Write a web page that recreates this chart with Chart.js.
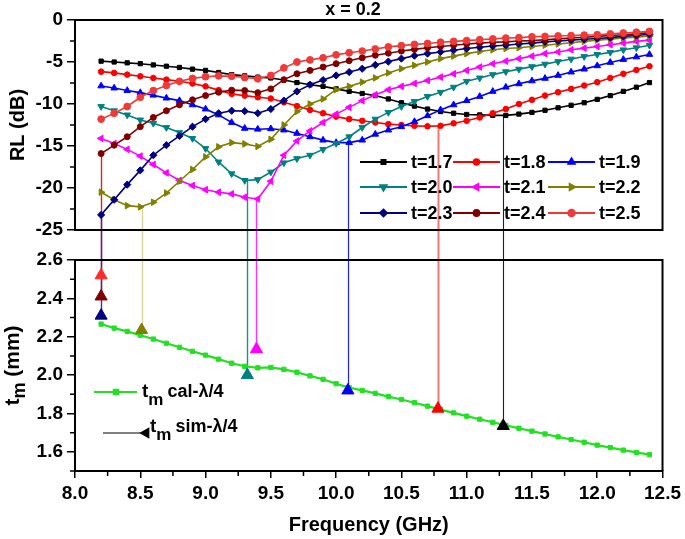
<!DOCTYPE html>
<html><head><meta charset="utf-8">
<script src="https://cdn.jsdelivr.net/npm/chart.js@4.4.0/dist/chart.umd.min.js"></script>
<style>html,body{margin:0;padding:0;background:#fff;}</style>
</head><body>
<canvas id="c" width="685" height="539"></canvas>
<script>
// ---------- data ----------
const freq = [8.2,8.3,8.4,8.5,8.6,8.7,8.8,8.9,9.0,9.1,9.2,9.3,9.4,9.5,9.6,9.7,9.8,9.9,10.0,10.1,10.2,10.3,10.4,10.5,10.6,10.7,10.8,10.9,11.0,11.1,11.2,11.3,11.4,11.5,11.6,11.7,11.8,11.9,12.0,12.1,12.2,12.3,12.4];
const rl17 = [-4.9,-5.0,-5.1,-5.2,-5.35,-5.5,-5.65,-5.85,-6.0, -6.25,-6.5,-6.65,-6.8,-6.9,-7.15,-7.45,-7.7,-7.9,-8.2, -8.5,-8.75,-9.0,-9.4,-9.85,-10.25,-10.6,-10.9,-11.1,-11.25, -11.3,-11.35,-11.35,-11.2,-11.0,-10.75,-10.45,-10.15,-9.85,-9.45, -9.0,-8.5,-8.0,-7.45];
const rl18 = [-6.15,-6.3,-6.5,-6.7,-6.9,-7.1,-7.3,-7.55,-7.9, -8.35,-8.8,-9.0,-9.2,-9.35,-9.8,-10.25,-10.7,-11.1,-11.5, -11.8,-12.0,-12.2,-12.4,-12.5,-12.6,-12.65,-12.6,-12.3,-12.0, -11.6,-11.1,-10.6,-10.0,-9.5,-9.0,-8.6,-8.2,-7.8,-7.4, -6.9,-6.4,-5.95,-5.5];
const rl19 = [-7.85,-8.1,-8.4,-8.65,-8.95,-9.3,-9.6,-10.1,-10.6, -11.3,-12.2,-12.9,-13.0,-12.95,-13.1,-13.5,-13.9,-14.3,-14.6, -14.6,-14.3,-13.6,-13.1,-12.7,-12.1,-11.4,-10.7,-10.1,-9.6, -9.1,-8.5,-8.0,-7.6,-7.25,-6.95,-6.6,-6.2,-5.85,-5.45, -5.05,-4.7,-4.4,-4.1];
const rl20 = [-10.3,-10.8,-11.3,-11.9,-12.3,-12.8,-13.4,-14.1,-15.3, -16.9,-18.3,-19.1,-19.0,-18.1,-17.0,-16.5,-16.1,-15.4,-14.7, -13.9,-12.8,-11.8,-11.0,-10.3,-9.7,-9.1,-8.6,-8.0,-7.3, -6.9,-6.5,-6.15,-5.85,-5.55,-5.25,-4.95,-4.65,-4.35,-4.1, -3.85,-3.55,-3.3,-3.0];
const rl21 = [-14.1,-14.7,-15.4,-16.2,-17.2,-18.2,-19.1,-19.7,-20.2, -20.5,-20.7,-21.1,-21.3,-19.2,-16.1,-14.4,-13.2,-12.2,-11.2, -10.4,-9.6,-8.9,-8.3,-7.9,-7.55,-7.2,-6.8,-6.4,-6.0, -5.6,-5.2,-4.9,-4.6,-4.3,-4.0,-3.8,-3.55,-3.35,-3.15, -2.95,-2.75,-2.55,-2.4];
const rl22 = [-20.5,-21.4,-22.1,-22.25,-21.7,-20.6,-19.2,-17.8,-16.3, -15.1,-14.6,-14.75,-15.05,-14.2,-12.5,-10.9,-10.0,-9.4,-8.3, -7.9,-7.4,-6.9,-6.3,-5.8,-5.4,-5.0,-4.6,-4.3,-4.0, -3.75,-3.55,-3.4,-3.3,-3.15,-3.0,-2.85,-2.7,-2.55,-2.4, -2.3,-2.15,-2.05,-1.9];
const rl23 = [-23.2,-21.4,-19.6,-17.9,-16.1,-14.9,-13.8,-12.7,-11.8, -11.1,-10.8,-10.85,-11.1,-10.6,-9.6,-8.5,-7.7,-7.15,-6.6, -6.2,-5.8,-5.35,-4.95,-4.6,-4.25,-4.0,-3.8,-3.6,-3.4, -3.25,-3.1,-3.0,-2.85,-2.75,-2.6,-2.5,-2.4,-2.3,-2.2, -2.1,-1.95,-1.85,-1.7];
const rl24 = [-15.9,-14.9,-13.9,-12.7,-11.6,-10.8,-10.1,-9.5,-9.0, -8.6,-8.35,-8.4,-8.65,-8.2,-7.1,-6.4,-6.0,-5.6,-5.2, -4.85,-4.5,-4.2,-3.95,-3.7,-3.5,-3.3,-3.15,-3.0,-2.85, -2.75,-2.65,-2.6,-2.5,-2.45,-2.35,-2.25,-2.15,-2.05,-1.95, -1.85,-1.75,-1.65,-1.5];
const rl25 = [-11.8,-11.1,-10.3,-9.2,-8.4,-7.8,-7.3,-6.95,-6.75, -6.65,-6.7,-6.85,-7.0,-6.6,-5.7,-5.0,-4.75,-4.5,-4.15, -3.9,-3.7,-3.45,-3.2,-3.05,-2.9,-2.8,-2.65,-2.55,-2.45, -2.35,-2.25,-2.15,-2.1,-2.0,-1.95,-1.9,-1.85,-1.8,-1.75, -1.65,-1.55,-1.45,-1.35];
const seriesLabels = ['t=1.7','t=1.8','t=1.9','t=2.0','t=2.1','t=2.2','t=2.3','t=2.4','t=2.5'];
const calTm = [2.266,2.245,2.228,2.208,2.188,2.166,2.145,2.124,2.104, 2.083,2.062,2.046,2.038,2.040,2.030,2.015,1.996,1.978,1.955, 1.935,1.920,1.905,1.888,1.873,1.856,1.838,1.820,1.803,1.786, 1.770,1.754,1.738,1.723,1.708,1.693,1.678,1.664,1.650,1.635, 1.622,1.609,1.597,1.585];
// simulated quarter-wave thickness (triangles) and RL minima they drop from
const simLabels = ['t=2.5','t=2.4','t=2.3','t=2.2','t=2.1','t=2.0','t=1.9','t=1.8','t=1.7'];
const simFreq = [8.2, 8.2, 8.2, 8.51, 9.39, 9.32, 10.09, 10.78, 11.28];
const simTm   = [2.52, 2.41, 2.31, 2.235, 2.135, 2.00, 1.92, 1.825, 1.735];
const dropRL  = [null, -15.9, -23.2, -22.25, -21.3, -19.1, -14.6, -12.6, -11.35];
const rlTicks = [0,-5,-10,-15,-20,-25];
const tmTicks = [1.6,1.8,2.0,2.2,2.4,2.6];
const freqTicks = [8.0,8.5,9.0,9.5,10.0,10.5,11.0,11.5,12.0,12.5];

// ---------- styles ----------
const FONT = '"Liberation Sans", Arial, sans-serif';
const seriesStyle = [
  {c:'#000000', ps:'rect', r:3, rot:0},
  {c:'#ff0000', ps:'circle', r:2.8, rot:0},
  {c:'#0000ff', ps:'triangle', r:3.8, rot:0},
  {c:'#008080', ps:'triangle', r:3.8, rot:180},
  {c:'#ff00ff', ps:'triangle', r:3.8, rot:270},
  {c:'#808000', ps:'triangle', r:3.8, rot:90},
  {c:'#000080', ps:'rectRot', r:3.6, rot:0},
  {c:'#800000', ps:'circle', r:3, rot:0},
  {c:'#f03a3a', ps:'circle', r:3.4, rot:0}
];
const simColors = ['#ff2a2a','#800000','#000080','#808000','#ff00ff','#008080','#0000ff','#ff0000','#000000'];
const dropColors = ['#ff2a2a','#d02828','#3030b0','#d4d49a','#ff30ff','#1a9090','#2020ff','#f07878','#202020'];
const dropWidths = [1.2,1.4,1.4,1.4,1.4,1.4,1.2,2.0,1.1];

const rlSeries = [rl17, rl18, rl19, rl20, rl21, rl22, rl23, rl24, rl25];
const datasets = rlSeries.map((vals, i) => {
  const s = seriesStyle[i];
  return {
    label: seriesLabels[i],
    data: freq.map((f, j) => ({x: f, y: vals[j]})),
    yAxisID: 'y', order: 30 - i,
    borderColor: s.c, backgroundColor: s.c,
    pointBackgroundColor: s.c, pointBorderColor: s.c,
    pointStyle: s.ps, pointRadius: s.r, pointRotation: s.rot, pointBorderWidth: 1,
    borderWidth: 1.6, tension: 0
  };
});
datasets.push({
  label: 'tm cal-λ/4',
  data: freq.map((f, j) => ({x: f, y: calTm[j]})),
  yAxisID: 'yTm', order: 5,
  borderColor: '#22e022', backgroundColor: '#22e022',
  pointBackgroundColor: '#22e022', pointBorderColor: '#22e022',
  pointStyle: 'rect', pointRadius: 3, pointBorderWidth: 1, borderWidth: 2.2
});
datasets.push({
  label: 'tm sim-λ/4',
  data: simFreq.map((f, j) => ({x: f, y: simTm[j]})),
  yAxisID: 'yTm', order: 1, showLine: false,
  borderColor: '#000', backgroundColor: '#000',
  pointBackgroundColor: simColors, pointBorderColor: simColors,
  pointStyle: 'triangle', pointRadius: 7, pointBorderWidth: 1
});

function fixTicks(arr) { return s => { s.ticks = arr.map(v => ({value: v})); }; }
const axisGrid = {display: true, drawOnChartArea: false, drawTicks: true, tickLength: 8, color: '#000', lineWidth: 1.5};
const axisBorder = {display: true, color: '#000', width: 2};
const tickFont = {family: FONT, size: 19, weight: 'bold'};

function minorTicks(ctx, scale, len, vertical) {
  const vals = scale.ticks.map(t => t.value).sort((a, b) => a - b);
  const mids = [];
  for (let i = 0; i < vals.length - 1; i++) mids.push((vals[i] + vals[i + 1]) / 2);
  const step = vals[1] - vals[0];
  if (vals[0] - step / 2 >= scale.min - 1e-9) mids.push(vals[0] - step / 2);
  if (vals[vals.length - 1] + step / 2 <= scale.max + 1e-9) mids.push(vals[vals.length - 1] + step / 2);
  ctx.beginPath();
  mids.forEach(v => {
    const p = scale.getPixelForValue(v);
    if (vertical) { ctx.moveTo(scale.right, p); ctx.lineTo(scale.right - len, p); }
    else { ctx.moveTo(p, scale.top); ctx.lineTo(p, scale.top + len); }
  });
  ctx.stroke();
}

function drawMarker(ctx, ds, idx, x, y) {
  const bg = Array.isArray(ds.pointBackgroundColor) ? ds.pointBackgroundColor[idx] : ds.pointBackgroundColor;
  ctx.fillStyle = bg; ctx.strokeStyle = bg;
  Chart.helpers.drawPoint(ctx, {pointStyle: ds.pointStyle, radius: ds.pointRadius, rotation: ds.pointRotation || 0, borderWidth: 1}, x, y);
}

const decor = {
  id: 'decor',
  beforeDatasetsDraw(chart) {
    const {ctx} = chart; const {x, y, yTm} = chart.scales;
    ctx.save();
    dropRL.forEach((rv, i) => {
      if (rv === null) return;
      const px = Math.round(x.getPixelForValue(simFreq[i])) + 0.5;
      ctx.strokeStyle = dropColors[i]; ctx.lineWidth = dropWidths[i];
      ctx.beginPath();
      ctx.moveTo(px, y.getPixelForValue(rv));
      ctx.lineTo(px, yTm.getPixelForValue(simTm[i]));
      ctx.stroke();
    });
    ctx.restore();
  },
  afterDraw(chart) {
    const {ctx} = chart; const {x, y, yTm} = chart.scales;
    ctx.save();
    // frames
    ctx.strokeStyle = '#000'; ctx.lineWidth = 2;
    ctx.strokeRect(x.left, y.top, x.right - x.left, y.bottom - y.top);
    ctx.beginPath();
    ctx.moveTo(x.left, yTm.top); ctx.lineTo(x.right, yTm.top); ctx.lineTo(x.right, yTm.bottom);
    ctx.stroke();
    // minor ticks
    ctx.lineWidth = 1.5;
    minorTicks(ctx, y, 5, true);
    minorTicks(ctx, yTm, 5, true);
    minorTicks(ctx, x, 5, false);

    // title
    ctx.fillStyle = '#000';
    ctx.font = 'bold 18px ' + FONT;
    ctx.textAlign = 'center'; ctx.textBaseline = 'alphabetic';
    ctx.fillText('x = 0.2', x.left + 278, 15);

    // axis titles
    ctx.font = 'bold 20px ' + FONT;
    ctx.fillText('Frequency (GHz)', (x.left + x.right) / 2, 531);
    ctx.save();
    ctx.translate(24, (y.top + y.bottom) / 2);
    ctx.rotate(-Math.PI / 2);
    ctx.fillText('RL (dB)', 0, 0);
    ctx.restore();
    ctx.save();
    ctx.translate(19, (yTm.top + yTm.bottom) / 2);
    ctx.rotate(-Math.PI / 2);
    ctx.textAlign = 'left';
    ctx.font = 'bold 21px ' + FONT;
    const wT = ctx.measureText('t').width;
    ctx.font = 'bold 18px ' + FONT;
    const wM = ctx.measureText('m').width;
    ctx.font = 'bold 21px ' + FONT;
    const wR = ctx.measureText(' (mm)').width;
    let sx = -(wT + wM + wR) / 2;
    ctx.fillText('t', sx, 0);
    ctx.font = 'bold 18px ' + FONT;
    ctx.fillText('m', sx + wT, 6);
    ctx.font = 'bold 21px ' + FONT;
    ctx.fillText(' (mm)', sx + wT + wM, 0);
    ctx.restore();

    // top legend (3 x 3)
    ctx.font = 'bold 18px ' + FONT;
    ctx.textAlign = 'left'; ctx.textBaseline = 'middle';
    const colX = [360, 453, 548];
    const rowY = [y.bottom - 68, y.bottom - 43, y.bottom - 17];
    for (let i = 0; i < 9; i++) {
      const ds = chart.data.datasets[i];
      const x0 = colX[i % 3], yc = rowY[Math.floor(i / 3)];
      ctx.strokeStyle = ds.borderColor; ctx.lineWidth = 1.8;
      ctx.beginPath(); ctx.moveTo(x0, yc); ctx.lineTo(x0 + 47, yc); ctx.stroke();
      drawMarker(ctx, ds, 0, x0 + 23.5, yc);
      ctx.fillStyle = '#000';
      ctx.fillText(ds.label, x0 + 51, yc + 1);
    }

    // bottom legend
    const dsCal = chart.data.datasets[9];
    ctx.strokeStyle = dsCal.borderColor; ctx.lineWidth = 2.2;
    ctx.beginPath(); ctx.moveTo(94, 392); ctx.lineTo(137, 392); ctx.stroke();
    drawMarker(ctx, dsCal, 0, 116, 392);
    ctx.textBaseline = 'alphabetic'; ctx.fillStyle = '#000';
    function tmText(x0, base, rest) {
      ctx.font = 'bold 19px ' + FONT;
      ctx.fillText('t', x0, base);
      const wt = ctx.measureText('t').width;
      ctx.font = 'bold 17px ' + FONT;
      ctx.fillText('m', x0 + wt, base + 8);
      const wm = ctx.measureText('m').width;
      ctx.font = 'bold 18px ' + FONT;
      ctx.fillText(rest, x0 + wt + wm + 4, base);
    }
    tmText(142, 397, 'cal-λ/4');
    ctx.strokeStyle = '#000'; ctx.lineWidth = 1.2;
    ctx.beginPath(); ctx.moveTo(103, 433); ctx.lineTo(145, 433); ctx.stroke();
    ctx.fillStyle = '#000';
    Chart.helpers.drawPoint(ctx, {pointStyle: 'triangle', radius: 5.5, rotation: 270, borderWidth: 1}, 146, 433);
    tmText(150, 432, 'sim-λ/4');
    ctx.restore();
  }
};

new Chart(document.getElementById('c'), {
  type: 'line',
  data: {datasets},
  options: {
    responsive: false, animation: false, devicePixelRatio: 1,
    layout: {padding: {top: 20, right: 20, left: 0, bottom: 0}},
    plugins: {legend: {display: false}, tooltip: {enabled: false}, title: {display: false}},
    scales: {
      x: {
        type: 'linear', position: 'bottom', min: 8, max: 12.5,
        afterBuildTicks: fixTicks(freqTicks),
        afterFit: s => { s.height = 68; },
        ticks: {font: tickFont, color: '#000', padding: 4, maxRotation: 0, autoSkip: false, callback: v => Number(v).toFixed(1)},
        grid: Object.assign({}, axisGrid, {tickLength: 7}), border: axisBorder
      },
      y: {
        type: 'linear', position: 'left', stack: 'v', stackWeight: 210, weight: 3,
        min: -25, max: 0,
        afterBuildTicks: fixTicks(rlTicks),
        afterFit: s => { s.width = 75; },
        ticks: {font: tickFont, color: '#000', padding: 4, autoSkip: false, callback: v => String(v)},
        grid: axisGrid, border: axisBorder
      },
      yGap: {
        type: 'linear', position: 'left', stack: 'v', stackWeight: 30, weight: 2,
        min: 0, max: 1,
        afterFit: s => { s.width = 75; },
        ticks: {display: false}, grid: {display: false}, border: {display: false}
      },
      yTm: {
        type: 'linear', position: 'left', stack: 'v', stackWeight: 211, weight: 1,
        min: 1.5, max: 2.6,
        afterBuildTicks: fixTicks(tmTicks),
        afterFit: s => { s.width = 75; },
        ticks: {font: tickFont, color: '#000', padding: 4, autoSkip: false, callback: v => Number(v).toFixed(1)},
        grid: axisGrid, border: axisBorder
      }
    }
  },
  plugins: [decor]
});
</script>
</body></html>
